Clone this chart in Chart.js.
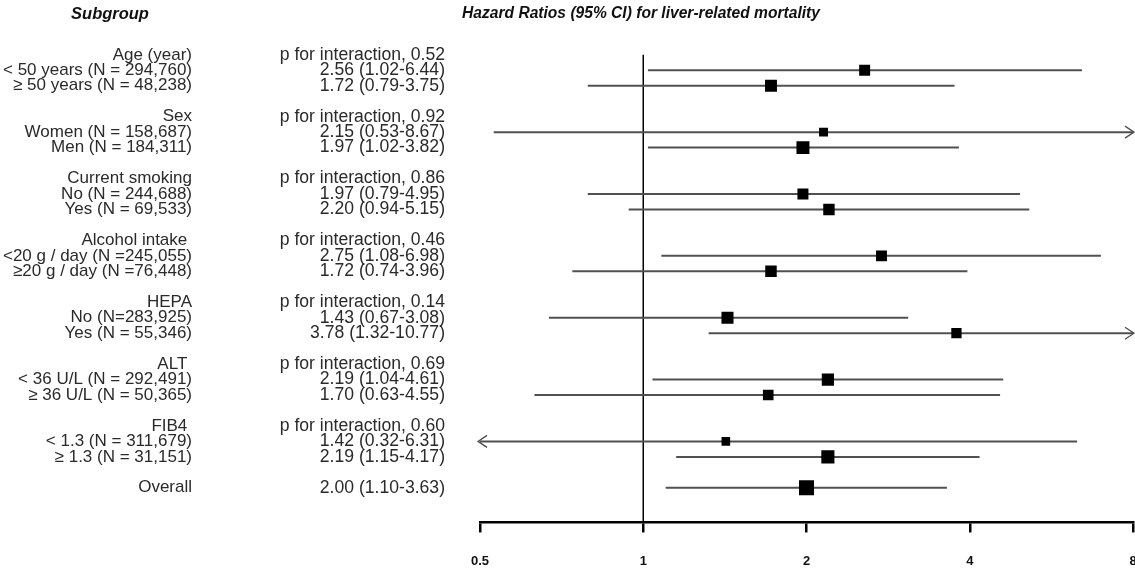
<!DOCTYPE html>
<html>
<head>
<meta charset="utf-8">
<script src="https://cdn.jsdelivr.net/npm/chart.js@4"></script>
<style>
    html, body { margin: 0; padding: 0; background: #fff; }
    #wrap { width: 1135px; height: 568px; }
</style>
</head>
<body>
<div id="wrap"><canvas id="forest" width="1135" height="568"></canvas></div>
<script>
// one entry per display row, blank rows are group separators
const subgroupLabels = [
    'Age (year)', '< 50 years (N = 294,760)', '\u2265 50 years (N = 48,238)', '',
    'Sex', 'Women (N = 158,687)', 'Men (N = 184,311)', '',
    'Current smoking', 'No (N = 244,688)', 'Yes (N = 69,533)', '',
    'Alcohol intake ', '<20 g / day (N =245,055)', '\u226520 g / day (N =76,448)', '',
    'HEPA', 'No (N=283,925)', 'Yes (N = 55,346)', '',
    'ALT ', '< 36 U/L (N = 292,491)', '\u2265 36 U/L (N = 50,365)', '',
    'FIB4 ', '< 1.3 (N = 311,679)', '\u2265 1.3 (N = 31,151)', '',
    'Overall'
];

const hrLabels = [
    'p for interaction, 0.52', '2.56 (1.02-6.44)', '1.72 (0.79-3.75)', '',
    'p for interaction, 0.92', '2.15 (0.53-8.67)', '1.97 (1.02-3.82)', '',
    'p for interaction, 0.86', '1.97 (0.79-4.95)', '2.20 (0.94-5.15)', '',
    'p for interaction, 0.46', '2.75 (1.08-6.98)', '1.72 (0.74-3.96)', '',
    'p for interaction, 0.14', '1.43 (0.67-3.08)', '3.78 (1.32-10.77)', '',
    'p for interaction, 0.69', '2.19 (1.04-4.61)', '1.70 (0.63-4.55)', '',
    'p for interaction, 0.60', '1.42 (0.32-6.31)', '2.19 (1.15-4.17)', '',
    '2.00 (1.10-3.63)'
];

const hr = [
    null, 2.56, 1.72, null,
    null, 2.15, 1.97, null,
    null, 1.97, 2.20, null,
    null, 2.75, 1.72, null,
    null, 1.43, 3.78, null,
    null, 2.19, 1.70, null,
    null, 1.42, 2.19, null,
    2.00
];
const lower = [
    null, 1.02, 0.79, null,
    null, 0.53, 1.02, null,
    null, 0.79, 0.94, null,
    null, 1.08, 0.74, null,
    null, 0.67, 1.32, null,
    null, 1.04, 0.63, null,
    null, 0.32, 1.15, null,
    1.10
];
const upper = [
    null, 6.44, 3.75, null,
    null, 8.67, 3.82, null,
    null, 4.95, 5.15, null,
    null, 6.98, 3.96, null,
    null, 3.08, 10.77, null,
    null, 4.61, 4.55, null,
    null, 6.31, 4.17, null,
    3.63
];

const xTicks = [0.5, 1, 2, 4, 8];
const summaryRow = 28;

const X_MIN = 0.5, X_MAX = 8;
const Y_MIN = -0.6, Y_MAX = 30.24;

// box side shrinks with the width of the CI (log scale)
function boxSide(i) {
    const w = Math.log(upper[i] / lower[i]);
    let side = 14.9 / Math.sqrt(w);
    if (i === summaryRow) side *= 1.1;
    return side;
}

const rows = hr.map((v, i) => i).filter(i => hr[i] !== null);

const ciDatasets = rows.map(i => ({
    type: 'line',
    data: [{ x: lower[i], y: i }, { x: upper[i], y: i }],
    borderColor: '#505050',
    borderWidth: 2,
    pointRadius: 0,
    order: 2
}));

const refLine = {
    type: 'line',
    data: [{ x: 1, y: 0 }, { x: 1, y: Y_MAX }],
    borderColor: '#000',
    borderWidth: 1.5,
    pointRadius: 0,
    order: 3
};

const boxes = {
    type: 'scatter',
    data: rows.map(i => ({ x: hr[i], y: i })),
    pointStyle: 'rect',
    pointRadius: rows.map(i => boxSide(i) / (2 * Math.SQRT1_2)),
    backgroundColor: '#000',
    borderWidth: 0,
    order: 1
};

// arrow heads where the CI runs past the axis range
const arrowPlugin = {
    id: 'arrows',
    afterDatasetsDraw(chart) {
        const ctx = chart.ctx;
        const xs = chart.scales.x, ys = chart.scales.y;
        ctx.save();
        ctx.strokeStyle = '#505050';
        ctx.lineWidth = 1.3;
        rows.forEach(i => {
            const y = ys.getPixelForValue(i);
            if (upper[i] > X_MAX) {
                const x = xs.getPixelForValue(X_MAX) + 1;
                ctx.beginPath();
                ctx.moveTo(x - 9, y - 6);
                ctx.lineTo(x, y);
                ctx.lineTo(x - 9, y + 6);
                ctx.stroke();
            }
            if (lower[i] < X_MIN) {
                const x = xs.getPixelForValue(X_MIN) - 2;
                ctx.beginPath();
                ctx.moveTo(x + 9, y - 6);
                ctx.lineTo(x, y);
                ctx.lineTo(x + 9, y + 6);
                ctx.stroke();
            }
        });
        ctx.restore();
    }
};

const headerPlugin = {
    id: 'headers',
    afterDraw(chart) {
        const ctx = chart.ctx;
        ctx.save();
        ctx.fillStyle = '#111';
        ctx.textAlign = 'center';
        ctx.textBaseline = 'middle';
        ctx.font = 'italic bold 16.5px "Liberation Sans", Arial, sans-serif';
        ctx.fillText('Subgroup', 110, 14);
        ctx.font = 'italic bold 15.6px "Liberation Sans", Arial, sans-serif';
        ctx.fillText('Hazard Ratios (95% CI) for liver-related mortality', 641, 14);
        ctx.restore();
    }
};

function rowTicks(axis) {
    axis.ticks = subgroupLabels.map((_, i) => ({ value: i }));
}

const fontFamily = '"Liberation Sans", Arial, sans-serif';

new Chart(document.getElementById('forest').getContext('2d'), {
    type: 'scatter',
    data: { datasets: [...ciDatasets, refLine, boxes] },
    plugins: [arrowPlugin, headerPlugin],
    options: {
        responsive: false,
        animation: false,
        events: [],
        layout: { autoPadding: false, padding: { top: 43, right: 2, left: 0, bottom: 0 } },
        plugins: {
            legend: { display: false },
            tooltip: { enabled: false },
            title: { display: false }
        },
        scales: {
            x: {
                type: 'logarithmic',
                min: X_MIN,
                max: X_MAX,
                afterBuildTicks: axis => { axis.ticks = xTicks.map(v => ({ value: v })); },
                afterFit: axis => {
                    axis.height = 45;
                    axis.paddingLeft = 0;
                    axis.paddingRight = 0;
                },
                grid: {
                    display: true,
                    drawOnChartArea: false,
                    drawTicks: true,
                    tickLength: 10,
                    lineWidth: 2.5,
                    color: '#000'
                },
                border: { display: true, color: '#000', width: 2.5 },
                ticks: {
                    autoSkip: false,
                    maxRotation: 0,
                    padding: 21,
                    color: '#111',
                    font: { family: fontFamily, size: 13, weight: 'bold' },
                    callback: v => String(v)
                }
            },
            y: {
                type: 'linear',
                position: 'left',
                reverse: true,
                min: Y_MIN,
                max: Y_MAX,
                weight: 2,
                afterBuildTicks: rowTicks,
                afterFit: axis => { axis.width = 196; },
                grid: { display: false, drawTicks: false },
                border: { display: false },
                ticks: {
                    autoSkip: false,
                    padding: 4,
                    color: '#2a2a2a',
                    font: { family: fontFamily, size: 17 },
                    callback: (v, idx) => subgroupLabels[idx]
                }
            },
            yHR: {
                type: 'linear',
                position: 'left',
                reverse: true,
                min: Y_MIN,
                max: Y_MAX,
                weight: 1,
                afterBuildTicks: rowTicks,
                afterFit: axis => { axis.width = 284; },
                grid: { display: false, drawTicks: false },
                border: { display: false },
                ticks: {
                    autoSkip: false,
                    padding: 35,
                    color: '#2a2a2a',
                    font: { family: fontFamily, size: 17.6 },
                    callback: (v, idx) => hrLabels[idx]
                }
            }
        }
    }
});
</script>
</body>
</html>
